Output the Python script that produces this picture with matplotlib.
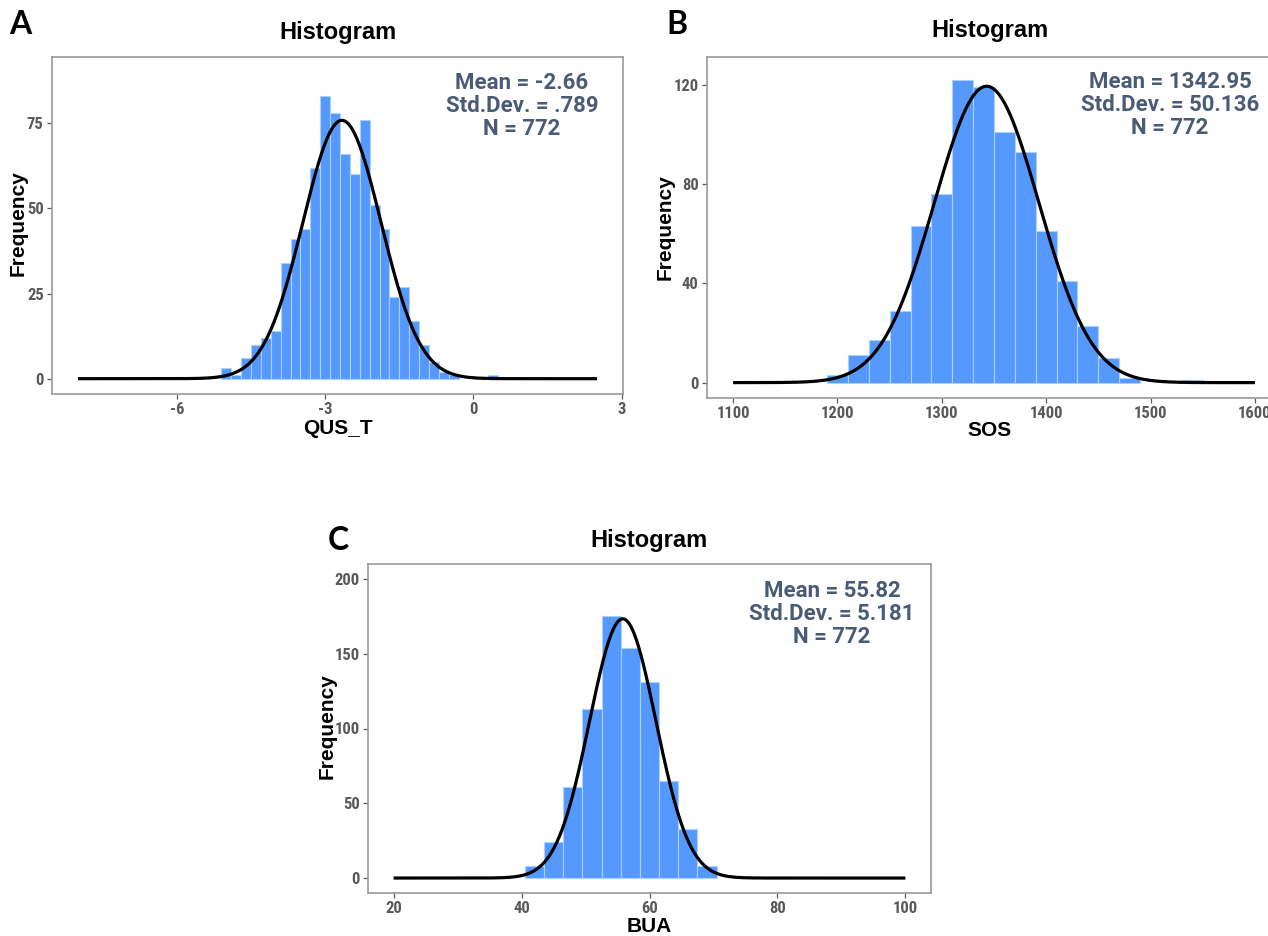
import numpy as np
import matplotlib
matplotlib.use("Agg")
import matplotlib.pyplot as plt

# ---------------- data ----------------
# Panel A: QUS_T, bin width 0.2
qus_centers = [-5.0, -4.8, -4.6, -4.4, -4.2, -4.0, -3.8, -3.6, -3.4, -3.2, -3.0,
               -2.8, -2.6, -2.4, -2.2, -2.0, -1.8, -1.6, -1.4, -1.2, -1.0, -0.8,
               -0.6, -0.4, 0.4]
qus_counts = [3, 1, 6, 10, 12, 14, 34, 41, 44, 62, 83,
              78, 66, 60, 76, 51, 44, 24, 27, 17, 10, 5,
              2, 1, 1]
qus_binwidth = 0.2
qus_mean, qus_sd = -2.66, 0.789
qus_curve_range = (-8, 2.5)

# Panel B: SOS, bin width 20
sos_centers = [1200, 1220, 1240, 1260, 1280, 1300, 1320, 1340, 1360, 1380,
               1400, 1420, 1440, 1460, 1480, 1540]
sos_counts = [3, 11, 17, 29, 63, 76, 122, 119, 101, 93,
              61, 41, 23, 10, 2, 1]
sos_binwidth = 20
sos_mean, sos_sd = 1342.95, 50.136
sos_curve_range = (1100, 1600)

# Panel C: BUA, bin width 3
bua_centers = [42, 45, 48, 51, 54, 57, 60, 63, 66, 69]
bua_counts = [8, 24, 61, 113, 175, 154, 131, 65, 33, 8]
bua_binwidth = 3
bua_mean, bua_sd = 55.82, 5.181
bua_curve_range = (20, 100)

N = 772
curve_scale = 0.972  # fitted curve in the picture sits slightly below N*binwidth*pdf

# ---------------- styling ----------------
W, H = 1268, 936
fig = plt.figure(figsize=(W / 100, H / 100), dpi=100)

BAR_FILL = "#5599ff"
BAR_EDGE = "#a9d2ff"
SPINE = "#9a9a9a"
TICK_COL = "#595959"
STAT_COL = "#4a5b78"
NARROW = ["Roboto Condensed", "Liberation Sans Narrow", "Noto Sans", "DejaVu Sans"]
BOLDF = ["Liberation Sans", "DejaVu Sans"]


def px_axes(l, r, t, b):
    return fig.add_axes([l / W, 1 - b / H, (r - l) / W, (b - t) / H])


def ptext(x, y, s, **kw):
    kw.setdefault("ha", "center")
    kw.setdefault("va", "center")
    return fig.text(x / W, 1 - y / H, s, **kw)


def normal_curve(mean, sd, bw, rng):
    x = np.linspace(rng[0], rng[1], 600)
    y = N * bw * curve_scale * np.exp(-0.5 * ((x - mean) / sd) ** 2) / (sd * np.sqrt(2 * np.pi))
    return x, y


def draw_panel(box, centers, counts, bw, mean, sd, crange, xlim, ylim, xticks, yticks):
    ax = px_axes(*box)
    ax.bar(centers, counts, width=bw, color=BAR_FILL, edgecolor=BAR_EDGE,
           linewidth=0.8, zorder=2)
    cx, cy = normal_curve(mean, sd, bw, crange)
    ax.plot(cx, cy, color="black", lw=2.3, zorder=3, solid_capstyle="butt")
    ax.set_xlim(*xlim)
    ax.set_ylim(*ylim)
    ax.set_xticks(xticks)
    ax.set_yticks(yticks)
    ax.set_xticklabels([str(t) for t in xticks])
    ax.set_yticklabels([str(t) for t in yticks])
    for s in ax.spines.values():
        s.set_color(SPINE)
        s.set_linewidth(1.2)
    ax.tick_params(direction="out", length=3.5, width=0.9, color=TICK_COL,
                   labelcolor=TICK_COL, labelsize=12, pad=2.5)
    for lab in ax.get_xticklabels() + ax.get_yticklabels():
        lab.set_family(NARROW)
        lab.set_fontweight("bold")
        lab.set_fontstretch("condensed")
    ax.set_facecolor("white")
    return ax


# Panel A
draw_panel((52, 623, 57, 394), qus_centers, qus_counts, qus_binwidth, qus_mean, qus_sd,
           qus_curve_range, (-8.525, 3.025), (-4.5, 94.5), [-6, -3, 0, 3], [0, 25, 50, 75])
# Panel B
draw_panel((707, 1281, 57, 398), sos_centers, sos_counts, sos_binwidth, sos_mean, sos_sd,
           sos_curve_range, (1075, 1625), (-6.2, 131.2),
           [1100, 1200, 1300, 1400, 1500, 1600], [0, 40, 80, 120])
# Panel C
draw_panel((368, 931, 564, 893), bua_centers, bua_counts, bua_binwidth, bua_mean, bua_sd,
           bua_curve_range, (16, 104), (-10, 210), [20, 40, 60, 80, 100],
           [0, 50, 100, 150, 200])

# Titles
for (x, y) in [(338, 33), (990, 31), (649, 541)]:
    ptext(x, y, "Histogram", family=BOLDF, fontweight="bold", fontsize=17, color="black")

# Axis labels
lab_kw = dict(family=BOLDF, fontweight="bold", fontsize=15, color="black")
ptext(18, 223, "Frequency", rotation=90, **lab_kw)
ptext(338, 429, "QUS_T", **lab_kw)
ptext(665, 227, "Frequency", rotation=90, **lab_kw)
ptext(990, 431, "SOS", **lab_kw)
ptext(327, 726, "Frequency", rotation=90, **lab_kw)
ptext(649, 926, "BUA", **lab_kw)

# Stats annotations
stat_kw = dict(family=["Roboto", "DejaVu Sans"], fontweight="bold", fontsize=16,
               color=STAT_COL, multialignment="center", linespacing=1.05)
ptext(522, 106, "Mean = -2.66\nStd.Dev. = .789\nN = 772", **stat_kw)
ptext(1170, 105, "Mean = 1342.95\nStd.Dev. = 50.136\nN = 772", **stat_kw)
ptext(832, 614, "Mean = 55.82\nStd.Dev. = 5.181\nN = 772", **stat_kw)

# Panel letters
let_kw = dict(family=["Lato", "DejaVu Sans"], fontweight="bold", fontsize=23, color="black")
ptext(20, 25, "A", **let_kw)
ptext(677, 24, "B", **let_kw)
ptext(338, 541, "C", **let_kw)

fig.savefig("out.png", dpi=100, facecolor="white")
